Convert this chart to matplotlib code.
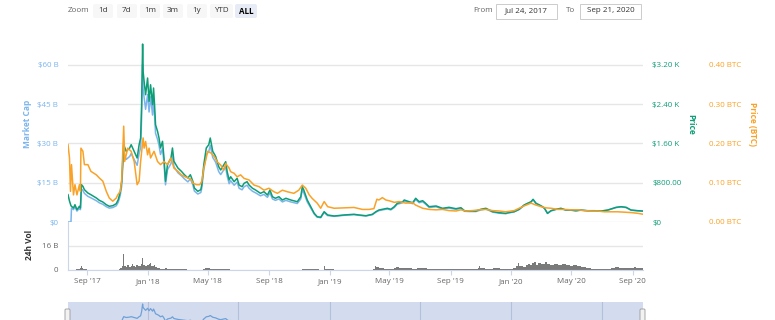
import numpy as np
import pandas as pd
from matplotlib import pyplot as plt
from matplotlib.patches import Rectangle, FancyBboxPatch

plt.rcParams['font.family'] = ['Open Sans', 'DejaVu Sans']

# ---- data ----
price_dates = [
    '2017-07-24', '2017-07-27', '2017-07-30', '2017-07-31', '2017-08-04', '2017-08-07', '2017-08-11',
    '2017-08-16', '2017-08-18', '2017-08-20', '2017-08-23', '2017-08-26', '2017-09-02', '2017-09-08',
    '2017-09-19', '2017-09-25', '2017-10-02', '2017-10-09', '2017-10-15', '2017-10-22', '2017-10-29',
    '2017-11-02', '2017-11-06', '2017-11-09', '2017-11-11', '2017-11-13', '2017-11-18', '2017-11-25',
    '2017-11-28', '2017-12-04', '2017-12-10', '2017-12-14', '2017-12-17', '2017-12-19', '2017-12-21',
    '2017-12-22', '2017-12-24', '2017-12-27', '2017-12-31', '2018-01-03', '2018-01-06', '2018-01-10',
    '2018-01-12', '2018-01-14', '2018-01-16', '2018-01-20', '2018-01-23', '2018-01-26', '2018-01-30',
    '2018-02-02', '2018-02-05', '2018-02-09', '2018-02-16', '2018-02-19', '2018-02-22', '2018-03-02',
    '2018-03-09', '2018-03-15', '2018-03-22', '2018-03-27', '2018-04-01', '2018-04-04', '2018-04-11',
    '2018-04-17', '2018-04-19', '2018-04-23', '2018-04-28', '2018-05-03', '2018-05-06', '2018-05-11',
    '2018-05-15', '2018-05-17', '2018-05-23', '2018-05-27', '2018-06-06', '2018-06-09', '2018-06-13',
    '2018-06-16', '2018-06-23', '2018-06-29', '2018-07-03', '2018-07-09', '2018-07-13', '2018-07-19',
    '2018-07-23', '2018-07-30', '2018-08-05', '2018-08-15', '2018-08-22', '2018-08-29', '2018-09-03',
    '2018-09-08', '2018-09-14', '2018-09-21', '2018-09-28', '2018-10-05', '2018-10-15', '2018-10-28',
    '2018-11-04', '2018-11-07', '2018-11-10', '2018-11-17', '2018-11-24', '2018-12-01', '2018-12-07',
    '2018-12-14', '2018-12-21', '2018-12-28', '2019-01-10', '2019-01-30', '2019-02-19', '2019-03-01',
    '2019-03-15', '2019-03-28', '2019-04-04', '2019-04-10', '2019-04-17', '2019-04-27', '2019-05-04',
    '2019-05-11', '2019-05-17', '2019-05-28', '2019-05-31', '2019-06-10', '2019-06-17', '2019-06-23',
    '2019-06-30', '2019-07-07', '2019-07-13', '2019-07-20', '2019-08-03', '2019-08-16', '2019-08-29',
    '2019-09-12', '2019-09-22', '2019-09-29', '2019-10-09', '2019-10-22', '2019-11-01', '2019-11-11',
    '2019-11-18', '2019-11-25', '2019-12-08', '2019-12-21', '2019-12-25', '2020-01-07', '2020-01-17',
    '2020-01-27', '2020-02-03', '2020-02-10', '2020-02-14', '2020-02-20', '2020-02-27', '2020-03-04',
    '2020-03-08', '2020-03-14', '2020-03-21', '2020-03-31', '2020-04-10', '2020-04-20', '2020-04-30',
    '2020-05-10', '2020-05-20', '2020-06-03', '2020-06-16', '2020-06-30', '2020-07-13', '2020-07-30',
    '2020-08-09', '2020-08-19', '2020-08-29', '2020-09-12', '2020-09-21',
]
price_usd = [
    556, 427, 330, 320, 285, 352, 250,
    320, 285, 760, 726, 658, 590, 556,
    489, 441, 407, 352, 320, 332, 373,
    454, 611, 829, 1236, 1574, 1439, 1507,
    1574, 1439, 1303, 1574, 1710, 2388, 3624,
    3068, 2865, 2592, 2932, 2457, 2795, 2388,
    2728, 2388, 1981, 1847, 1710, 1507, 1643,
    1303, 829, 1167, 1303, 1507, 1236, 1099,
    1032, 963, 896, 963, 829, 692, 625,
    658, 760, 1167, 1507, 1574, 1710, 1439,
    1370, 1330, 1126, 1059, 1228, 1024, 855,
    922, 821, 890, 753, 719, 788, 821,
    753, 686, 652, 584, 617, 550, 652,
    515, 483, 515, 448, 483, 448, 413,
    515, 719, 652, 448, 312, 177, 108,
    96, 210, 143, 122, 143, 157, 143,
    128, 157, 210, 244, 259, 279, 259,
    312, 381, 413, 448, 413, 393, 483,
    413, 434, 381, 312, 326, 279, 299,
    271, 291, 230, 224, 224, 259, 279,
    244, 210, 189, 177, 189, 210, 259,
    346, 381, 413, 462, 381, 346, 312,
    279, 177, 230, 259, 279, 244, 244,
    230, 244, 230, 230, 224, 244, 299,
    312, 299, 244, 230, 224,
]
mcap_b = [
    0, 0, 0, 5.31, 4.73, 5.84, 4.15,
    5.31, 4.73, 12.62, 12.05, 10.92, 9.79, 9.23,
    8.12, 7.32, 6.76, 5.84, 5.31, 5.51, 6.19,
    7.54, 10.14, 13.76, 20.52, 26.13, 23.89, 25.02,
    26.13, 23.89, 21.63, 26.13, 28.39, 39.64, 60.16,
    50.93, 47.56, 43.03, 48.67, 42.01, 47.79, 40.83,
    46.65, 40.83, 33.88, 31.58, 29.24, 25.77, 28.10,
    22.28, 14.18, 19.96, 22.28, 25.77, 21.14, 18.79,
    17.65, 16.47, 15.32, 16.47, 14.18, 11.83, 10.69,
    11.25, 13.00, 19.96, 25.77, 26.92, 29.24, 24.61,
    23.43, 22.74, 19.25, 18.11, 21.00, 17.51, 14.62,
    15.77, 14.04, 15.22, 12.88, 12.29, 13.47, 14.04,
    12.88, 11.73, 11.15, 9.99, 10.55, 9.41, 11.15,
    8.81, 8.26, 8.81, 7.66, 8.26, 7.66, 7.06,
    8.81, 12.29, 11.15, 7.66, 5.34, 3.03, 1.85,
    1.64, 3.59, 2.45, 2.17, 2.55, 2.79, 2.55,
    2.28, 2.79, 3.74, 4.34, 4.61, 4.97, 4.61,
    5.55, 6.78, 7.35, 7.97, 7.35, 7.00, 8.60,
    7.35, 7.73, 6.78, 5.55, 5.80, 4.97, 5.32,
    4.82, 5.18, 4.09, 3.99, 3.99, 4.61, 4.97,
    4.34, 3.74, 3.36, 3.15, 3.36, 3.86, 4.77,
    6.37, 7.01, 7.60, 8.50, 7.01, 6.37, 5.74,
    5.13, 3.26, 4.23, 4.77, 5.13, 4.49, 4.49,
    4.23, 4.49, 4.23, 4.23, 4.12, 4.49, 5.50,
    5.74, 5.50, 4.49, 4.23, 4.12,
]

btc_dates = [
    '2017-07-24', '2017-07-27', '2017-07-29', '2017-07-31', '2017-08-04', '2017-08-07', '2017-08-11',
    '2017-08-16', '2017-08-18', '2017-08-19', '2017-08-23', '2017-08-26', '2017-09-02', '2017-09-08',
    '2017-09-19', '2017-09-25', '2017-10-02', '2017-10-09', '2017-10-15', '2017-10-22', '2017-10-29',
    '2017-11-01', '2017-11-06', '2017-11-09', '2017-11-13', '2017-11-15', '2017-11-21', '2017-11-28',
    '2017-12-04', '2017-12-10', '2017-12-14', '2017-12-17', '2017-12-22', '2017-12-24', '2017-12-27',
    '2017-12-31', '2018-01-03', '2018-01-06', '2018-01-13', '2018-01-20', '2018-01-26', '2018-02-02',
    '2018-02-09', '2018-02-16', '2018-02-22', '2018-03-02', '2018-03-09', '2018-03-15', '2018-03-22',
    '2018-03-29', '2018-04-01', '2018-04-08', '2018-04-15', '2018-04-19', '2018-04-23', '2018-05-01',
    '2018-05-08', '2018-05-15', '2018-05-20', '2018-05-27', '2018-06-02', '2018-06-06', '2018-06-13',
    '2018-06-16', '2018-06-23', '2018-06-29', '2018-07-06', '2018-07-13', '2018-07-23', '2018-08-02',
    '2018-08-12', '2018-08-22', '2018-09-01', '2018-09-11', '2018-09-18', '2018-09-28', '2018-10-08',
    '2018-10-21', '2018-10-31', '2018-11-07', '2018-11-14', '2018-11-21', '2018-11-27', '2018-12-07',
    '2018-12-14', '2018-12-21', '2018-12-28', '2019-01-10', '2019-01-30', '2019-02-19', '2019-03-08',
    '2019-03-21', '2019-03-31', '2019-04-06', '2019-04-10', '2019-04-17', '2019-04-24', '2019-05-01',
    '2019-05-11', '2019-05-21', '2019-06-03', '2019-06-17', '2019-06-23', '2019-07-07', '2019-07-20',
    '2019-08-03', '2019-08-16', '2019-08-29', '2019-09-12', '2019-09-22', '2019-10-02', '2019-10-15',
    '2019-10-29', '2019-11-11', '2019-11-25', '2019-12-08', '2019-12-21', '2020-01-07', '2020-01-17',
    '2020-01-27', '2020-02-10', '2020-02-20', '2020-03-01', '2020-03-11', '2020-03-21', '2020-04-04',
    '2020-04-17', '2020-04-30', '2020-05-14', '2020-05-27', '2020-06-10', '2020-06-23', '2020-07-06',
    '2020-07-20', '2020-08-02', '2020-08-16', '2020-08-29', '2020-09-12', '2020-09-21',
]
price_btc = [
    0.197, 0.163, 0.078, 0.146, 0.069, 0.095, 0.069,
    0.095, 0.078, 0.188, 0.180, 0.146, 0.146, 0.129,
    0.120, 0.112, 0.104, 0.078, 0.061, 0.053, 0.061,
    0.069, 0.078, 0.107, 0.244, 0.154, 0.188, 0.180,
    0.154, 0.095, 0.104, 0.154, 0.214, 0.188, 0.205,
    0.171, 0.188, 0.163, 0.180, 0.154, 0.146, 0.154,
    0.146, 0.163, 0.137, 0.129, 0.120, 0.116, 0.112,
    0.108, 0.099, 0.095, 0.095, 0.104, 0.137, 0.180,
    0.175, 0.165, 0.153, 0.145, 0.132, 0.149, 0.137,
    0.128, 0.124, 0.115, 0.120, 0.111, 0.107, 0.094,
    0.090, 0.081, 0.086, 0.077, 0.073, 0.081, 0.077,
    0.073, 0.081, 0.094, 0.086, 0.069, 0.060, 0.048,
    0.035, 0.052, 0.039, 0.035, 0.036, 0.037, 0.032,
    0.032, 0.034, 0.058, 0.056, 0.062, 0.056, 0.054,
    0.050, 0.052, 0.048, 0.049, 0.043, 0.035, 0.032,
    0.031, 0.032, 0.029, 0.028, 0.031, 0.028, 0.029,
    0.031, 0.032, 0.029, 0.028, 0.026, 0.029, 0.035,
    0.041, 0.048, 0.043, 0.039, 0.036, 0.035, 0.032,
    0.032, 0.031, 0.031, 0.029, 0.028, 0.028, 0.026,
    0.026, 0.026, 0.025, 0.024, 0.022, 0.020,
]

vol_dates = [
    '2017-07-24', '2017-08-01', '2017-08-10', '2017-08-17', '2017-08-19', '2017-08-21', '2017-08-23',
    '2017-09-01', '2017-09-15', '2017-10-10', '2017-10-25', '2017-11-03', '2017-11-06', '2017-11-09',
    '2017-11-10', '2017-11-12', '2017-11-13', '2017-11-14', '2017-11-17', '2017-11-20', '2017-11-23',
    '2017-11-27', '2017-11-29', '2017-12-01', '2017-12-05', '2017-12-08', '2017-12-11', '2017-12-15',
    '2017-12-18', '2017-12-20', '2017-12-21', '2017-12-22', '2017-12-26', '2017-12-29', '2018-01-02',
    '2018-01-04', '2018-01-06', '2018-01-09', '2018-01-12', '2018-01-15', '2018-01-19', '2018-01-24',
    '2018-01-28', '2018-02-02', '2018-02-05', '2018-02-08', '2018-02-14', '2018-02-20', '2018-03-01',
    '2018-03-20', '2018-04-10', '2018-04-22', '2018-04-26', '2018-05-01', '2018-05-06', '2018-05-12',
    '2018-05-25', '2018-06-15', '2018-08-01', '2018-10-01', '2018-11-06', '2018-11-14', '2018-11-20',
    '2018-11-28', '2018-12-10', '2018-12-20', '2018-12-21', '2018-12-22', '2019-01-10', '2019-03-01',
    '2019-03-30', '2019-04-03', '2019-04-05', '2019-04-10', '2019-04-20', '2019-05-10', '2019-05-15',
    '2019-05-20', '2019-06-01', '2019-06-15', '2019-06-25', '2019-07-01', '2019-07-15', '2019-08-01',
    '2019-08-20', '2019-09-10', '2019-09-25', '2019-10-10', '2019-10-26', '2019-10-28', '2019-10-31',
    '2019-11-10', '2019-11-25', '2019-12-10', '2019-12-25', '2020-01-05', '2020-01-10', '2020-01-14',
    '2020-01-16', '2020-01-20', '2020-01-25', '2020-01-30', '2020-02-04', '2020-02-08', '2020-02-12',
    '2020-02-16', '2020-02-19', '2020-02-24', '2020-03-01', '2020-03-04', '2020-03-05', '2020-03-08',
    '2020-03-12', '2020-03-14', '2020-03-20', '2020-03-28', '2020-04-05', '2020-04-12', '2020-04-20',
    '2020-04-28', '2020-05-05', '2020-05-12', '2020-05-20', '2020-05-30', '2020-06-10', '2020-06-25',
    '2020-07-10', '2020-07-20', '2020-07-28', '2020-08-05', '2020-08-15', '2020-08-25', '2020-09-03',
    '2020-09-08', '2020-09-15', '2020-09-21',
]
vol_b = [
    0, 0.2, 0.4, 1.2, 2.7, 1.5, 0.6,
    0.3, 0.2, 0.3, 0.2, 0.6, 1.2, 0.8,
    3.0, 10.4, 6.0, 2.5, 1.8, 3.5, 2.2,
    3.0, 4.2, 2.6, 2.0, 3.2, 2.4, 3.0,
    4.0, 7.8, 5.5, 3.5, 2.6, 3.2, 4.2,
    4.8, 3.0, 2.5, 3.2, 1.8, 1.2, 0.9,
    0.7, 1.0, 1.6, 0.9, 0.6, 0.5, 0.4,
    0.3, 0.3, 0.8, 1.6, 1.2, 1.0, 0.6,
    0.4, 0.3, 0.25, 0.2, 0.4, 0.9, 0.7,
    0.4, 0.2, 0.5, 2.5, 0.5, 0.2, 0.2,
    0.4, 2.6, 1.8, 1.4, 1.0, 1.3, 1.8,
    1.4, 1.2, 1.0, 1.6, 1.2, 0.9, 0.8,
    0.7, 0.8, 1.0, 0.8, 1.4, 2.4, 1.2,
    1.0, 1.2, 0.8, 1.0, 1.5, 2.8, 5.0,
    2.5, 3.0, 2.2, 3.5, 4.0, 3.2, 4.8,
    5.2, 3.5, 4.4, 3.8, 27.8, 4.0, 5.5,
    6.0, 4.2, 3.6, 4.0, 3.2, 4.0, 3.4,
    2.8, 3.6, 2.6, 1.8, 1.2, 0.8, 0.4,
    0.8, 1.6, 2.0, 1.4, 1.6, 1.2, 2.0,
    1.2, 1.6, 1.3,
]

mcap_ticks = [0, 15, 30, 45, 60]
mcap_labels = ['$0', '$15 B', '$30 B', '$45 B', '$60 B']
price_ticks = [0, 800, 1600, 2400, 3200]
price_labels = ['$0', '$800.00', '$1.60 K', '$2.40 K', '$3.20 K']
btc_ticks = [0, 0.1, 0.2, 0.3, 0.4]
btc_labels = ['0.00 BTC', '0.10 BTC', '0.20 BTC', '0.30 BTC', '0.40 BTC']
vol_ticks = [0, 16]
vol_labels = ['0', '16 B']
date_ticks = ['2017-09-01', '2018-01-01', '2018-05-01', '2018-09-01', '2019-01-01', '2019-05-01',
              '2019-09-01', '2020-01-01', '2020-05-01', '2020-09-01']
date_labels = ["Sep '17", "Jan '18", "May '18", "Sep '18", "Jan '19", "May '19",
               "Sep '19", "Jan '20", "May '20", "Sep '20"]
nav_grid = ['2018-01-01', '2018-07-01', '2019-01-01', '2019-07-01', '2020-01-01', '2020-07-01']
zoom_buttons = ['1d', '7d', '1m', '3m', '1y', 'YTD', 'ALL']
range_from = 'Jul 24, 2017'
range_to = 'Sep 21, 2020'

BLUE = '#7cb5ec'
GREEN = '#0f9d77'
ORANGE = '#f9a227'
GRID = '#e6e6e6'
AXIS = '#ccd6eb'

W, H = 775, 320


def fx(px):
    return px / W


def fy(py):
    return 1 - py / H


pd_price = pd.to_datetime(price_dates)
pd_btc = pd.to_datetime(btc_dates)
pd_vol = pd.to_datetime(vol_dates)
x0, x1 = pd.Timestamp('2017-07-24'), pd.Timestamp('2020-09-22')

fig = plt.figure(figsize=(W / 100, H / 100), dpi=100)

# main panel
ax = fig.add_axes([fx(68), fy(222), 575 / W, 187 / H])
ax_p = ax.twinx()
ax_b = ax.twinx()

ax.plot(pd_price, mcap_b, color=BLUE, lw=1.1)
ax_p.plot(pd_price, price_usd, color=GREEN, lw=1.1)
ax_b.plot(pd_btc, price_btc, color=ORANGE, lw=1.1)

ax.set_xlim(x0, x1)
ax.set_ylim(0, 71.4)
ax_p.set_ylim(0, 71.4 / 15 * 800)
ax_b.set_ylim(0, 71.4 / 15 * 0.1)

ax.set_yticks(mcap_ticks, mcap_labels)
ax_p.set_yticks(price_ticks, price_labels)
ax_b.set_yticks(btc_ticks, btc_labels)
ax.yaxis.grid(True, color=GRID, lw=1)
ax.set_axisbelow(True)
ax.tick_params(axis='y', length=0, pad=7, labelsize=5.8, labelcolor=BLUE)
ax_p.tick_params(axis='y', length=0, pad=6.5, labelsize=5.8, labelcolor=GREEN)
ax_b.tick_params(axis='y', length=0, pad=47.5, labelsize=5.8, labelcolor=ORANGE)
for a in (ax, ax_p, ax_b):
    a.tick_params(axis='x', bottom=False, labelbottom=False)
    for s in a.spines.values():
        s.set_visible(False)
    for lab in a.get_yticklabels():
        lab.set_horizontalalignment('right' if a is ax else 'left')

fig.text(fx(28), fy(124), 'Market Cap', rotation=90, ha='center', va='center',
         fontsize=6, fontweight='bold', color=BLUE)
fig.text(fx(691), fy(124), 'Price', rotation=270, ha='center', va='center',
         fontsize=6, fontweight='bold', color=GREEN)
fig.text(fx(752), fy(124), 'Price (BTC)', rotation=270, ha='center', va='center',
         fontsize=6, fontweight='bold', color=ORANGE)

# volume panel
axv = fig.add_axes([fx(68), fy(270), 575 / W, 48 / H])
axv.fill_between(pd_vol, vol_b, step='post', color='#7a7a7a', lw=0)
axv.set_xlim(x0, x1)
axv.set_ylim(0, 32)
axv.set_yticks(vol_ticks, vol_labels)
axv.yaxis.grid(True, color=GRID, lw=1)
axv.set_axisbelow(True)
axv.tick_params(axis='y', length=0, pad=7, labelsize=5.8, labelcolor='#666666')
axv.set_xticks(pd.to_datetime(date_ticks), date_labels)
axv.tick_params(axis='x', length=3.5, width=0.8, color=AXIS, pad=2.5, labelsize=5.8,
                labelcolor='#666666')
for k in ('top', 'right'):
    axv.spines[k].set_visible(False)
for k in ('left', 'bottom'):
    axv.spines[k].set_color(AXIS)
    axv.spines[k].set_linewidth(0.8)
fig.text(fx(30), fy(245), '24h Vol', rotation=90, ha='center', va='center',
         fontsize=6, fontweight='bold', color='#333333')

# navigator (cut off at the bottom edge of the image)
axn = fig.add_axes([fx(68), fy(326.4), 575 / W, 24.4 / H])
axn.set_facecolor('#d3dcee')
for d in pd.to_datetime(nav_grid):
    axn.axvline(d, color='#b4c0da', lw=0.8)
axn.plot(pd_price, mcap_b, color='#6fa0d8', lw=0.9)
axn.set_xlim(x0, x1)
axn.set_ylim(0, 65.5)
axn.set_xticks([])
axn.set_yticks([])
for s in axn.spines.values():
    s.set_visible(False)

# overlay for the range selector and handles
ui = fig.add_axes([0, 0, 1, 1], zorder=10)
ui.set_xlim(0, W)
ui.set_ylim(H, 0)
ui.axis('off')
ui.patch.set_alpha(0)
ui.text(68, 11, 'Zoom', fontsize=5.8, color='#666666', va='center', ha='left')
bx = [93, 117, 140, 163, 187, 210, 235]
bw = [20, 20, 20, 20, 20, 23, 22]
for lab, x, w in zip(zoom_buttons, bx, bw):
    sel = lab == 'ALL'
    ui.add_patch(FancyBboxPatch((x, 4), w, 14, boxstyle='round,pad=0,rounding_size=2',
                                fc='#e6ebf5' if sel else '#f7f7f7', ec='none'))
    ui.text(x + w / 2, 11, lab, fontsize=5.8, ha='center', va='center',
            color='#000000' if sel else '#333333', fontweight='bold' if sel else 'normal')
ui.text(473, 11, 'From', fontsize=5.8, color='#666666', va='center', ha='left')
ui.text(566, 11, 'To', fontsize=5.8, color='#666666', va='center', ha='left')
for x, txt in ((496, range_from), (580, range_to)):
    ui.add_patch(Rectangle((x, 3.5), 61, 15, fc='white', ec='#cccccc', lw=0.7))
    ui.text(x + 30.5, 11, txt, fontsize=5.8, ha='center', va='center', color='#333333')
for x in (65, 640):
    ui.add_patch(FancyBboxPatch((x, 309), 5, 13, boxstyle='round,pad=0,rounding_size=1',
                                fc='#f2f2f2', ec='#999999', lw=0.6))

fig.savefig('out.png', dpi=100)
